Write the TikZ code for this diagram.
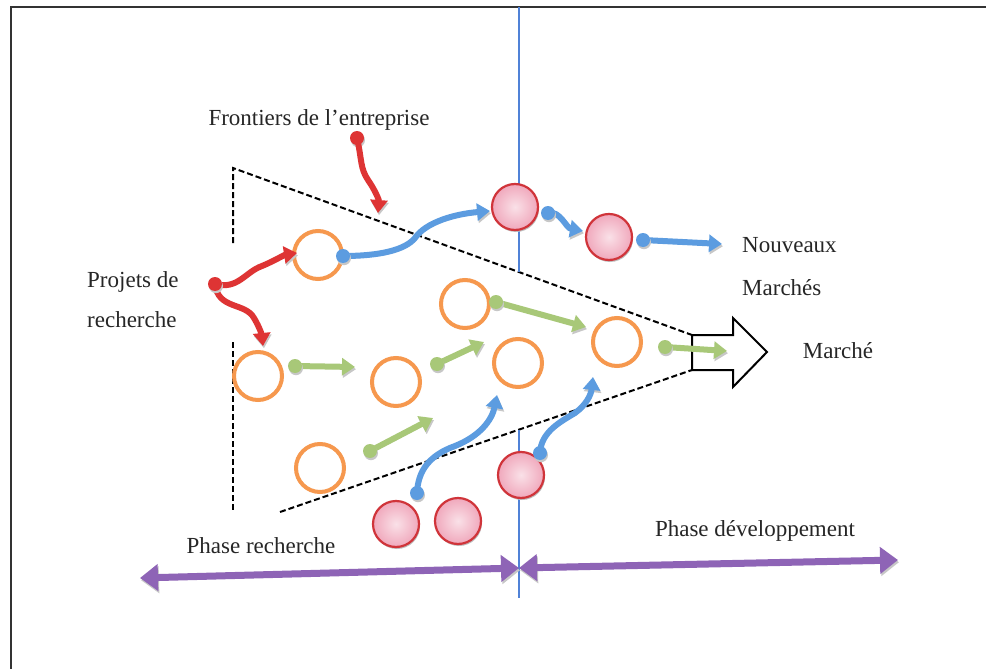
\documentclass[tikz,border=0pt]{standalone}
\usepackage{fontspec}
\setmainfont{Liberation Serif}
\usetikzlibrary{arrows.meta}
\definecolor{ringorange}{RGB}{246,152,78}
\definecolor{ballred}{RGB}{208,52,58}
\definecolor{ballpink}{RGB}{240,168,188}
\definecolor{flowred}{RGB}{222,52,52}
\definecolor{flowblue}{RGB}{92,156,224}
\definecolor{flowgreen}{RGB}{168,200,120}
\definecolor{phaseviolet}{RGB}{142,100,182}
\definecolor{splitblue}{RGB}{80,130,215}
\tikzset{
  ring/.style={circle, draw=ringorange, line width=4pt, minimum size=48pt, inner sep=0pt},
  ball/.style={circle, draw=ballred, line width=2.2pt, minimum size=46pt, inner sep=0pt,
    inner color=ballpink!35, outer color=ballpink,
    preaction={fill=black!25, transform canvas={shift={(1pt,-2pt)}}}},
  flow/.style={line width=6pt, draw=#1, -{Triangle[length=13pt,width=17pt]},
    preaction={draw=black!22, transform canvas={shift={(1pt,-2.2pt)}}}},
  flowdot/.style={fill=#1, preaction={fill=black!22, transform canvas={shift={(1pt,-2.2pt)}}}},
  label/.style={font=\fontsize{23}{28}\selectfont, text=black!85, inner sep=0pt},
  frontier/.style={line width=2pt, dash pattern=on 6pt off 3pt},
  phase/.style={line width=7pt, draw=phaseviolet, {Triangle[length=18pt,width=26pt]}-{Triangle[length=18pt,width=26pt]},
    preaction={draw=black!22, transform canvas={shift={(1pt,-2.2pt)}}}}
}
\begin{document}
\begin{tikzpicture}[x=1pt,y=-1pt]
\useasboundingbox (0,0) rectangle (986,669);
\fill[white] (0,0) rectangle (986,669);

% frame
\draw[line width=1.6pt, black!80] (11,669) -- (11,7) -- (986,7);

% labels
\node[label] (frontiers) at (319,120) {Frontiers de l’entreprise};
\node[label, font=\fontsize{23}{40}\selectfont, align=left, anchor=west] (projets) at (87,300) {Projets de\\recherche};
\node[label, anchor=west] (nouveaux) at (742,245) {Nouveaux};
\node[label, anchor=west] (marches) at (742,288) {Marchés};
\node[label] (marche) at (838,351) {Marché};
\node[label] (rech) at (261,546) {Phase recherche};
\node[label] (dev) at (755,531) {Phase développement};

% triangle-shaped boundary of the firm
\coordinate (tl) at (233,168);
\coordinate (tlb) at (233,243);
\coordinate (bl) at (233,342);
\coordinate (blb) at (233,512);
\coordinate (bs) at (280,512);
\coordinate (tipT) at (692,335);
\coordinate (tipB) at (692,370);
\draw[frontier] (tlb) -- (tl) -- (tipT);
\draw[frontier] (bl) -- (blb);
\draw[frontier] (bs) -- (tipB);

% phase divider
\coordinate (divTop) at (519,7);
\coordinate (divA) at (519,272);
\coordinate (divB) at (519,430);
\coordinate (divBot) at (519,598);
\draw[splitblue, line width=1.2pt] (divTop) -- (divA);
\draw[splitblue, line width=1.2pt] (divB) -- (divBot);

% market arrow
\draw[line width=2pt, fill=white, line join=miter]
  (692,335) -- (733,335) -- (733,318) -- (767,352) -- (733,387) -- (733,370) -- (692,370) -- cycle;
\coordinate (mkt) at (727,351);

% research projects
\node[ring] (r1) at (318,255) {};
\node[ring] (r2) at (258,376) {};
\node[ring] (r3) at (396,382) {};
\node[ring] (r4) at (465,304) {};
\node[ring] (r5) at (518,363) {};
\node[ring] (r6) at (617,342) {};
\node[ring] (r7) at (320,468) {};

% external projects
\node[ball] (b1) at (515,207) {};
\node[ball] (b2) at (609,237) {};
\node[ball] (b3) at (521,475) {};
\node[ball] (b4) at (396,524) {};
\node[ball] (b5) at (458,521) {};

% red flows
\coordinate (fr0) at (357,138);
\coordinate (fr1) at (378,213);
\fill[flowdot=flowred] (fr0) circle (7pt);
\draw[flow=flowred] (fr0) .. controls (362,160) and (360,168) .. (368,180) .. controls (375,190) and (379,200) .. (fr1);
\coordinate (pr0) at (215,284);
\coordinate (pr1) at (297,253);
\coordinate (pr2) at (263,346);
\draw[flow=flowred] (pr0) .. controls (238,290) and (245,272) .. (262,266) .. controls (274,261) and (284,255) .. (pr1);
\draw[flow=flowred] (pr0) .. controls (218,310) and (245,302) .. (254,318) .. controls (260,328) and (262,336) .. (pr2);
\fill[flowdot=flowred] (pr0) circle (7pt);

% blue flows
\coordinate (bf1s) at (343,256);
\coordinate (bf1e) at (490,211);
\draw[flow=flowblue] (bf1s) .. controls (380,256) and (405,250) .. (415,238) .. controls (426,222) and (455,214) .. (bf1e);
\fill[flowdot=flowblue] (bf1s) circle (7pt);
\coordinate (bf2s) at (548,213);
\coordinate (bf2e) at (583,231);
\draw[flow=flowblue] (bf2s) .. controls (560,210) and (566,228) .. (bf2e);
\fill[flowdot=flowblue] (bf2s) circle (7pt);
\coordinate (bf3s) at (643,240);
\coordinate (bf3e) at (722,244);
\draw[flow=flowblue] (bf3s) -- (bf3e);
\fill[flowdot=flowblue] (bf3s) circle (7pt);
\coordinate (bf4s) at (417,493);
\coordinate (bf4e) at (497,395);
\draw[flow=flowblue] (bf4s) .. controls (418,470) and (430,455) .. (455,446) .. controls (480,436) and (492,420) .. (bf4e);
\fill[flowdot=flowblue] (bf4s) circle (7pt);
\coordinate (bf5s) at (540,453);
\coordinate (bf5e) at (593,377);
\draw[flow=flowblue] (bf5s) .. controls (541,432) and (560,422) .. (575,413) .. controls (586,405) and (591,395) .. (bf5e);
\fill[flowdot=flowblue] (bf5s) circle (7pt);

% green flows
\coordinate (g1s) at (295,366);
\coordinate (g1e) at (355,367);
\coordinate (g2s) at (437,364);
\coordinate (g2e) at (484,342);
\coordinate (g3s) at (370,451);
\coordinate (g3e) at (433,418);
\coordinate (g4s) at (496,302);
\coordinate (g4e) at (586,327);
\coordinate (g5s) at (665,347);
\foreach \s/\e in {g1s/g1e, g2s/g2e, g3s/g3e, g4s/g4e, g5s/mkt}{
  \draw[flow=flowgreen] (\s) -- (\e);
  \fill[flowdot=flowgreen] (\s) circle (7pt);
}

% phases
\coordinate (phL) at (140,578);
\coordinate (phM) at (519,568);
\coordinate (phR) at (898,560);
\draw[phase] (phL) -- (phM);
\draw[phase] (phM) -- (phR);
\end{tikzpicture}
\end{document}
